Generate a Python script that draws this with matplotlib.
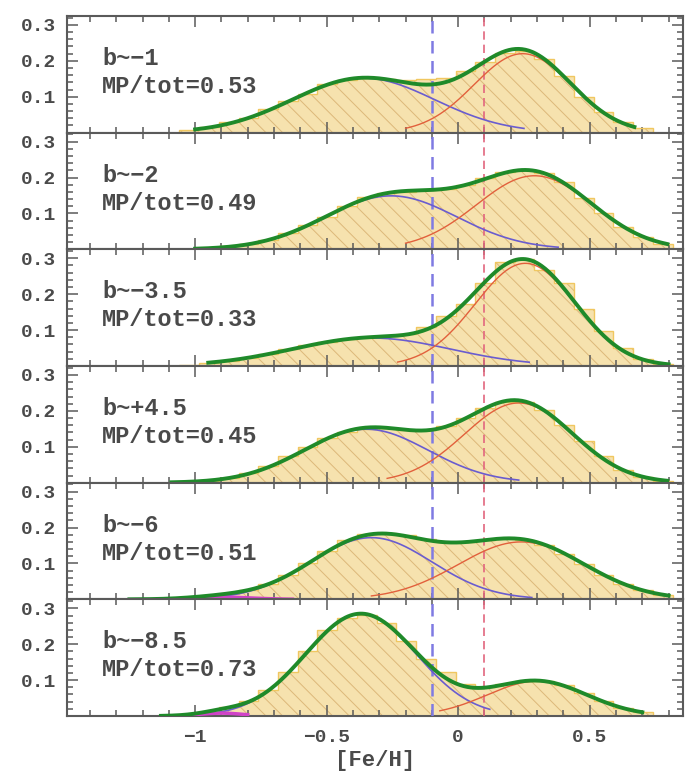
import numpy as np
import matplotlib
matplotlib.use('Agg')
import matplotlib.pyplot as plt
from matplotlib.ticker import FixedLocator, MultipleLocator

plt.rcParams['font.family'] = ['Liberation Mono', 'DejaVu Sans Mono']
plt.rcParams['font.weight'] = 'bold'
plt.rcParams['axes.labelweight'] = 'bold'
plt.rcParams['hatch.linewidth'] = 0.7

# ---------------- data ----------------
panel_labels = ['b~−1', 'b~−2', 'b~−3.5', 'b~+4.5', 'b~−6', 'b~−8.5']
mp_fraction = ['0.53', '0.49', '0.33', '0.45', '0.51', '0.73']

bin_start = -1.135
bin_width = 0.075
n_bins = 26

hist_b1 = [0.0, 0.008, 0.016, 0.030, 0.042, 0.066, 0.088, 0.108, 0.135, 0.148, 0.152, 0.150, 0.148,
           0.150, 0.152, 0.172, 0.196, 0.222, 0.228, 0.205, 0.158, 0.100, 0.058, 0.030, 0.012, 0.0]
hist_b2 = [0.0, 0.002, 0.004, 0.008, 0.015, 0.026, 0.045, 0.068, 0.090, 0.120, 0.145, 0.158, 0.160,
           0.165, 0.168, 0.180, 0.198, 0.215, 0.222, 0.214, 0.188, 0.142, 0.100, 0.062, 0.033, 0.015]
hist_b3 = [0.0, 0.004, 0.008, 0.014, 0.022, 0.034, 0.046, 0.058, 0.068, 0.076, 0.080, 0.084, 0.090,
           0.108, 0.138, 0.172, 0.230, 0.290, 0.298, 0.268, 0.232, 0.160, 0.098, 0.050, 0.020, 0.006]
hist_b4 = [0.0, 0.002, 0.006, 0.013, 0.026, 0.046, 0.075, 0.098, 0.124, 0.140, 0.150, 0.152, 0.148,
           0.146, 0.158, 0.180, 0.208, 0.225, 0.226, 0.202, 0.160, 0.115, 0.075, 0.036, 0.016, 0.006]
hist_b6 = [0.002, 0.006, 0.010, 0.016, 0.026, 0.044, 0.068, 0.100, 0.134, 0.165, 0.182, 0.185, 0.178,
           0.168, 0.160, 0.160, 0.165, 0.170, 0.166, 0.152, 0.127, 0.098, 0.068, 0.044, 0.025, 0.012]
hist_b85 = [0.001, 0.005, 0.012, 0.024, 0.042, 0.072, 0.124, 0.180, 0.240, 0.274, 0.282, 0.258, 0.210,
            0.160, 0.122, 0.090, 0.082, 0.088, 0.098, 0.098, 0.086, 0.064, 0.042, 0.022, 0.010, 0.0]
hists = [hist_b1, hist_b2, hist_b3, hist_b4, hist_b6, hist_b85]

# Gaussian fit components: metal-poor (blue), metal-rich (red), very metal-poor (magenta)
mp_amp = [0.152, 0.149, 0.078, 0.149, 0.172, 0.285]
mp_mean = [-0.36, -0.255, -0.33, -0.35, -0.33, -0.37]
mp_sigma = [0.27, 0.25, 0.30, 0.236, 0.23, 0.21]
mr_amp = [0.22, 0.205, 0.286, 0.222, 0.16, 0.097]
mr_mean = [0.245, 0.29, 0.255, 0.23, 0.24, 0.30]
mr_sigma = [0.185, 0.22, 0.19, 0.207, 0.24, 0.19]
vmp_amp = [0.0, 0.0, 0.0, 0.0, 0.006, 0.008]
vmp_mean = [-0.9, -0.9, -0.9, -0.9, -0.9, -0.9]
vmp_sigma = [0.1, 0.1, 0.1, 0.1, 0.12, 0.08]

fit_start = [-1.0, -1.0, -0.95, -1.09, -1.25, -1.13]
fit_end = [0.67, 0.795, 0.80, 0.795, 0.80, 0.70]
mp_end = [0.25, 0.38, 0.27, 0.23, 0.28, 0.12]
mr_start = [-0.20, -0.20, -0.23, -0.27, -0.33, -0.07]
vmp_start = [None, None, None, None, -1.0, -1.0]
vmp_end = [None, None, None, None, -0.63, -0.80]

cut_mp = -0.1
cut_mr = 0.1

xticks_major = [-1, -0.5, 0, 0.5]
xtick_labels = ['−1', '−0.5', '0', '0.5']
yticks_major = [0.1, 0.2, 0.3]
ytick_labels = ['0.1', '0.2', '0.3']


def gauss(x, a, m, s):
    return a * np.exp(-(x - m) ** 2 / (2 * s ** 2))


# ---------------- figure ----------------
fig = plt.figure(figsize=(6.93, 7.72), dpi=100)
left, width = 0.0967, 0.889
bottom0, total_h = 0.0725, 0.9068
h = total_h / 6

frame_col = '#5a5a5a'
text_col = '#4a4a4a'
fill_col = '#f6e2ae'
hatch_col = '#dcb879'
step_col = '#f0c760'

edges = bin_start + bin_width * np.arange(n_bins + 1)

for i in range(6):
    ax = fig.add_axes([left, bottom0 + (5 - i) * h, width, h])
    vals = np.array(hists[i])
    ax.stairs(vals, edges, fill=True, facecolor=fill_col, edgecolor=hatch_col,
              hatch='\\\\', linewidth=0, zorder=1)
    ax.stairs(vals, edges, fill=False, color=step_col, linewidth=1.0, zorder=2)

    ax.axvline(cut_mp, color='#7f7ae2', lw=1.8, ls=(0, (5, 3)), zorder=3)
    ax.axvline(cut_mr, color='#e2667e', lw=1.2, ls=(0, (5, 3)), zorder=3)

    xs = np.linspace(fit_start[i], fit_end[i], 400)
    tot = gauss(xs, mp_amp[i], mp_mean[i], mp_sigma[i]) + \
        gauss(xs, mr_amp[i], mr_mean[i], mr_sigma[i]) + \
        gauss(xs, vmp_amp[i], vmp_mean[i], vmp_sigma[i])
    xb = np.linspace(fit_start[i], mp_end[i], 300)
    ax.plot(xb, gauss(xb, mp_amp[i], mp_mean[i], mp_sigma[i]), color='#6a5ccf', lw=1.2, zorder=4)
    xr = np.linspace(mr_start[i], fit_end[i], 300)
    ax.plot(xr, gauss(xr, mr_amp[i], mr_mean[i], mr_sigma[i]), color='#e2603c', lw=1.0, zorder=4)
    if vmp_start[i] is not None:
        xm = np.linspace(vmp_start[i], vmp_end[i], 100)
        ax.plot(xm, gauss(xm, vmp_amp[i], vmp_mean[i], vmp_sigma[i]), color='#d042c8', lw=2.5, zorder=4)
    ax.plot(xs, tot, color='#1f8a2a', lw=2.8, zorder=5)

    ax.set_xlim(-1.487, 0.855)
    ax.set_ylim(0, 0.325)

    ax.xaxis.set_major_locator(FixedLocator(xticks_major))
    ax.xaxis.set_minor_locator(MultipleLocator(0.1))
    ax.yaxis.set_major_locator(FixedLocator(yticks_major))
    ax.yaxis.set_minor_locator(MultipleLocator(0.02))
    ax.set_yticklabels(ytick_labels)
    ax.tick_params(which='both', direction='in', top=True, right=True,
                   color=frame_col, width=1.1, labelcolor=text_col)
    ax.tick_params(which='major', length=8)
    ax.tick_params(which='minor', length=4)
    ax.tick_params(axis='y', labelsize=14, pad=8)
    ax.tick_params(axis='x', labelsize=14, pad=9)
    if i < 5:
        ax.tick_params(axis='x', labelbottom=False)
    else:
        ax.set_xticklabels(xtick_labels)
        ax.set_xlabel('[Fe/H]', fontsize=16, color=text_col, labelpad=3, fontweight='bold')
    for sp in ax.spines.values():
        sp.set_color(frame_col)
        sp.set_linewidth(1.5)

    ax.text(0.057, 0.58, panel_labels[i], transform=ax.transAxes, fontsize=17,
            color=text_col, va='baseline', ha='left')
    ax.text(0.057, 0.34, 'MP/tot=' + mp_fraction[i], transform=ax.transAxes, fontsize=17,
            color=text_col, va='baseline', ha='left')

fig.savefig('out.png', dpi=100)
